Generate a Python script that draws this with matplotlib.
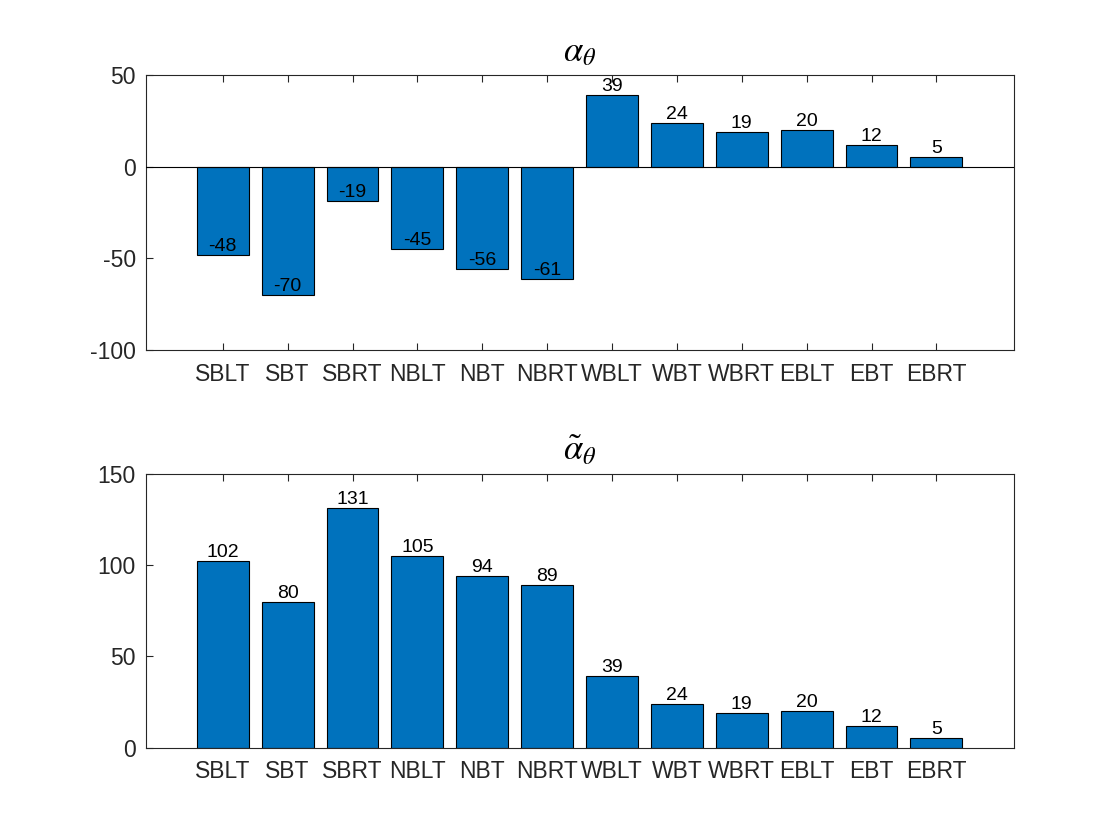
import numpy as np
import matplotlib.pyplot as plt

plt.rcParams['font.family'] = ['Liberation Sans', 'DejaVu Sans']
plt.rcParams['mathtext.fontset'] = 'stix'
plt.rcParams['axes.unicode_minus'] = False

movements = ['SBLT', 'SBT', 'SBRT', 'NBLT', 'NBT', 'NBRT',
             'WBLT', 'WBT', 'WBRT', 'EBLT', 'EBT', 'EBRT']
alpha = [-48, -70, -19, -45, -56, -61, 39, 24, 19, 20, 12, 5]
alpha_tilde = [102, 80, 131, 105, 94, 89, 39, 24, 19, 20, 12, 5]

bar_color = '#0072BD'
text_color = '#262626'


def draw_panel(ax, values, title, ylim, yticks):
    x = np.arange(1, len(values) + 1)
    ax.bar(x, values, width=0.8, color=bar_color, edgecolor='black', linewidth=0.8, zorder=2)
    if ylim[0] < 0:
        ax.axhline(0, color='black', lw=0.8, zorder=3)
    for xi, v in zip(x, values):
        ax.text(xi, v, str(v), ha='center', va='bottom', fontsize=14, color='black', zorder=4)
    ax.set_xlim(-0.19, 13.19)
    ax.set_ylim(*ylim)
    ax.set_yticks(yticks)
    ax.set_xticks(x)
    ax.set_xticklabels(movements)
    ax.tick_params(direction='in', length=5, labelsize=16.5, colors=text_color, width=0.8)
    ax.tick_params(axis='x', top=True, labeltop=False, pad=9)
    ax.tick_params(axis='y', right=False, pad=7)
    for s in ax.spines.values():
        s.set_color(text_color)
        s.set_linewidth(0.8)
    ax.set_title(title, fontsize=25, pad=10)


fig = plt.figure(figsize=(11.2, 8.4), dpi=100)
ax1 = fig.add_axes([0.13, 0.583, 0.775, 0.328])
ax2 = fig.add_axes([0.13, 0.110, 0.775, 0.326])

draw_panel(ax1, alpha, r'$\alpha_\theta$', (-100, 50), [-100, -50, 0, 50])
draw_panel(ax2, alpha_tilde, r'$\tilde{\alpha}_\theta$', (0, 150), [0, 50, 100, 150])

fig.savefig('out.png', dpi=100)
